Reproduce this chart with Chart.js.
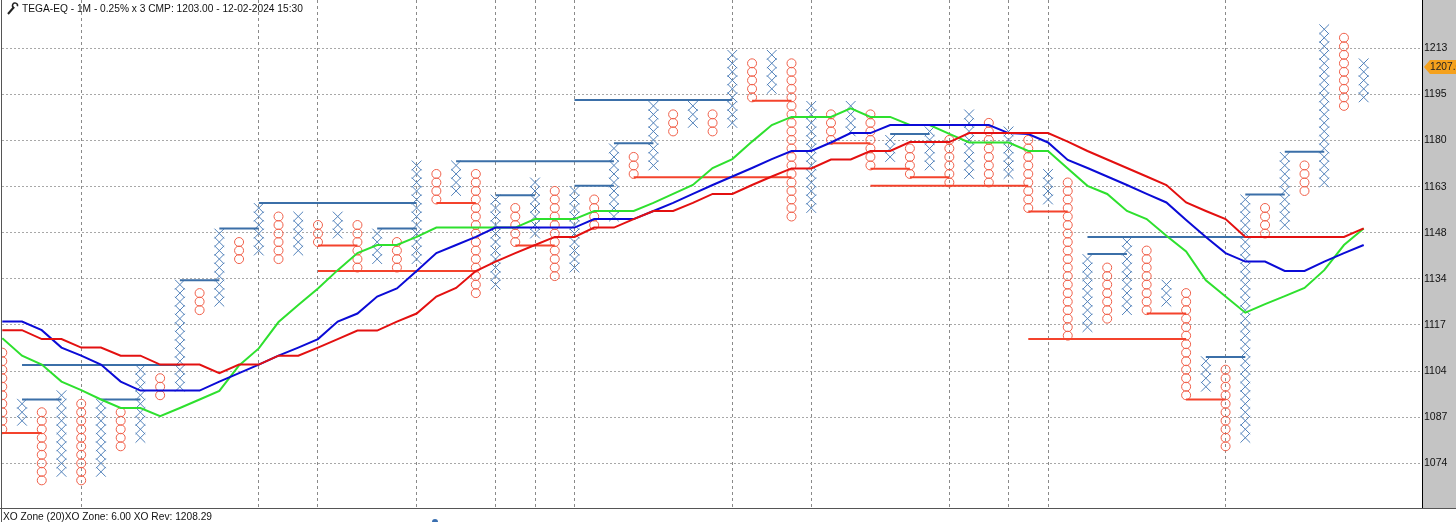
<!DOCTYPE html>
<html>
<head>
<meta charset="utf-8">
<script src="https://cdn.jsdelivr.net/npm/chart.js@4.4.1/dist/chart.umd.min.js"></script>
<style>
    html, body { margin: 0; padding: 0; background: #fff; }
    #wrap { width: 1456px; height: 522px; }
</style>
</head>
<body>
<div id="wrap"><canvas id="pnf" width="1456" height="522"></canvas></div>
<script>
// Point & Figure, 0.25% box x 3 reversal. Y values are box numbers (box 0 = 1074 line).
const TITLE = 'TEGA-EQ - 1M - 0.25% x 3 CMP: 1203.00 - 12-02-2024 15:30';
const STATUS = 'XO Zone (20)XO Zone: 6.00 XO Rev: 1208.29';
const TAG_LABEL = '1207.00';
const TAG_BOX = 46.57;

const COL_TYPE = 'OXOXOXOXOXOXOXOXOXOXOXOXOXOXOXOXOXOXOXOXOXOXOXOXOXOXOXOXOXOXOXOXOXOXOX'.split('');
const COL_LOW = [4, 5, -2, -1, -2, -1, 2, 3, 8, 9, 18, 19, 24, 25, 24, 25, 26, 27, 23, 24,
    23, 24, 31, 32, 20, 21, 26, 27, 22, 23, 28, 29, 34, 35, 39, 40, 39, 40, 43, 44,
    29, 30, 38, 39, 35, 36, 34, 35, 33, 34, 33, 34, 30, 31, 15, 16, 17, 18, 18, 19,
    8, 9, 2, 3, 27, 28, 32, 33, 42, 43];
const COL_HIGH = [13, 7, 6, 8, 7, 7, 6, 11, 10, 21, 20, 27, 26, 30, 29, 29, 28, 29, 28, 27,
    26, 35, 34, 35, 34, 31, 30, 33, 32, 32, 31, 37, 36, 42, 41, 42, 41, 48, 47, 48,
    47, 42, 41, 42, 41, 38, 37, 39, 38, 41, 40, 39, 38, 34, 33, 24, 23, 26, 25, 21,
    20, 12, 11, 31, 30, 36, 35, 51, 50, 47];

const GREEN_MA = [14.7, 12.65, 11.6, 9.6, 8.6, 7.5, 6.5, 6.5, 5.55, 6.5,
    7.5, 8.5, 11.5, 13.5, 16.6, 18.6, 20.55, 22.7, 24.7, 25.65,
    25.65, 26.6, 27.7, 27.7, 27.7, 27.7, 27.7, 28.7, 28.7, 28.7,
    29.65, 29.65, 29.65, 30.6, 31.65, 32.7, 34.7, 35.75, 37.8, 39.75,
    40.7, 40.7, 40.7, 41.7, 40.7, 40.7, 39.75, 39.75, 38.7, 37.7,
    37.7, 37.7, 36.7, 36.7, 34.65, 32.6, 31.65, 29.65, 28.7, 26.75,
    24.9, 21.5, 19.6, 17.7, 18.7, 19.65, 20.6, 22.7, 25.65, 27.6];
const BLUE_MA = [16.65, 16.65, 15.65, 13.6, 12.65, 11.6, 9.6, 8.55, 8.55, 8.55,
    8.55, 9.6, 10.6, 11.6, 12.65, 13.6, 14.6, 16.65, 17.6, 19.6,
    20.55, 22.6, 24.7, 25.65, 26.6, 27.7, 27.7, 27.7, 27.7, 27.7,
    28.7, 28.7, 28.7, 29.65, 30.6, 31.65, 32.7, 33.7, 34.7, 35.75,
    36.7, 36.7, 37.7, 38.8, 38.8, 39.75, 39.75, 39.75, 39.75, 39.75,
    39.75, 38.8, 38.7, 37.7, 35.65, 34.7, 33.7, 32.7, 31.65, 30.65,
    28.6, 26.6, 24.7, 23.7, 23.7, 22.6, 22.6, 23.7, 24.7, 25.65];
const RED_MA = [15.65, 15.65, 14.6, 14.6, 13.6, 13.6, 12.65, 12.65, 11.6, 11.6,
    11.6, 10.6, 11.6, 11.6, 12.65, 12.65, 13.6, 14.6, 15.6, 15.6,
    16.65, 17.6, 19.6, 20.6, 22.6, 23.7, 24.7, 25.65, 26.6, 26.6,
    27.7, 27.7, 28.7, 29.65, 29.65, 30.6, 31.65, 31.65, 32.7, 33.7,
    34.65, 34.65, 35.7, 35.7, 36.7, 36.7, 37.75, 37.75, 37.75, 38.8,
    38.8, 38.8, 38.8, 38.8, 37.8, 36.7, 35.7, 34.7, 33.7, 32.7,
    30.65, 29.65, 28.7, 26.6, 26.6, 26.6, 26.6, 26.6, 26.6, 27.6];

// [from column, to column, box level]
const BLUE_LINES = [[1, 9, 11.55], [1, 3, 7.5], [5, 7, 7.5], [9, 11, 21.5], [11, 13, 27.6],
    [13, 21, 30.6], [19, 21, 27.6], [23, 31, 35.5], [25, 27, 31.5], [29, 31, 32.6],
    [31, 33, 37.6], [29, 37, 42.7], [45, 47, 38.7], [55, 57, 24.6], [55, 63, 26.6],
    [61, 63, 12.5], [63, 65, 31.6], [65, 67, 36.6]];
const RED_LINES = [[-1, 2, 3.55], [16, 18, 25.6], [16, 24, 22.6], [22, 24, 30.6], [26, 28, 25.6],
    [32, 40, 33.6], [38, 40, 42.6], [42, 44, 37.6], [44, 46, 34.6], [46, 48, 33.6],
    [44, 52, 32.6], [52, 54, 29.6], [52, 60, 14.6], [58, 60, 17.6], [60, 62, 7.5]];

const TICK_LABELS = ['1074', '1087', '1104', '1117', '1134', '1148', '1163', '1180', '1195', '1213'];
const TICK_STEP = 5.418;
const VLINE_COLS = [4, 13, 16, 21, 25, 27, 29, 37, 41, 48, 51, 53, 62];

const FONT = '10.2px "Liberation Sans", Arial, sans-serif';

const xPts = [];
const oPts = [];
COL_TYPE.forEach(function(t, i) {
    for (let b = COL_LOW[i]; b <= COL_HIGH[i]; b++) {
        (t === 'X' ? xPts : oPts).push({ x: i, y: b });
    }
});

function segment(seg, color) {
    return {
        type: 'line',
        data: [{ x: seg[0], y: seg[2] }, { x: seg[1], y: seg[2] }],
        borderColor: color,
        borderWidth: 2,
        pointRadius: 0,
        order: 4,
        clip: 0
    };
}

function maLine(values, color, order) {
    return {
        type: 'line',
        data: values.map(function(v, i) { return { x: i, y: v }; }),
        borderColor: color,
        borderWidth: 2,
        pointRadius: 0,
        tension: 0,
        order: order,
        clip: 0
    };
}

// no label padding at the ends, so the plot runs edge to edge
function noPad(s) {
    s.paddingTop = 0;
    s.paddingBottom = 0;
    s.paddingLeft = 0;
    s.paddingRight = 0;
}

const decor = {
    id: 'decor',
    beforeDraw: function(chart) {
        const ctx = chart.ctx;
        const a = chart.chartArea;
        ctx.save();
        ctx.fillStyle = '#c4c4c4';
        ctx.fillRect(a.right, 0, chart.width - a.right, a.bottom);
        ctx.restore();
    },
    afterDraw: function(chart) {
        const ctx = chart.ctx;
        const a = chart.chartArea;
        const y = chart.scales.y;
        ctx.save();
        // left border and status separator
        ctx.strokeStyle = '#555';
        ctx.lineWidth = 1;
        ctx.beginPath();
        ctx.moveTo(1.5, 0);
        ctx.lineTo(1.5, chart.height);
        ctx.moveTo(0, a.bottom + 0.5);
        ctx.lineTo(chart.width, a.bottom + 0.5);
        ctx.stroke();

        // wrench glyph
        ctx.strokeStyle = '#222';
        ctx.lineWidth = 2;
        ctx.beginPath();
        ctx.moveTo(8, 14);
        ctx.lineTo(14, 7);
        ctx.stroke();
        ctx.lineWidth = 1.5;
        ctx.beginPath();
        ctx.arc(15, 5.5, 2.5, Math.PI * 0.6, Math.PI * 2.1);
        ctx.stroke();

        ctx.font = FONT;
        ctx.fillStyle = '#111';
        ctx.textBaseline = 'middle';
        ctx.fillText(TITLE, 22, 9);

        ctx.textBaseline = 'alphabetic';
        ctx.fillText(STATUS, 3, 520);

        // current price tag
        const ty = y.getPixelForValue(TAG_BOX);
        ctx.fillStyle = '#f5a11c';
        ctx.beginPath();
        ctx.moveTo(a.right + 2, ty);
        ctx.lineTo(a.right + 8, ty - 7);
        ctx.lineTo(chart.width, ty - 7);
        ctx.lineTo(chart.width, ty + 7);
        ctx.lineTo(a.right + 8, ty + 7);
        ctx.closePath();
        ctx.fill();
        ctx.fillStyle = '#222';
        ctx.textBaseline = 'middle';
        ctx.fillText(TAG_LABEL, a.right + 8, ty + 0.5);

        // small icon in status bar
        ctx.fillStyle = '#3a6fb0';
        ctx.beginPath();
        ctx.arc(435, 522, 3, Math.PI, 0);
        ctx.fill();
        ctx.restore();
    }
};

const datasets = [
    maLine(RED_MA, '#e31010', 0),
    maLine(BLUE_MA, '#0b0bd6', 1),
    maLine(GREEN_MA, '#2ee02e', 2)
];
BLUE_LINES.forEach(function(s) { datasets.push(segment(s, '#3b6fa8')); });
RED_LINES.forEach(function(s) { datasets.push(segment(s, '#f4432c')); });
datasets.push({
    type: 'scatter',
    data: xPts,
    pointStyle: 'crossRot',
    pointRadius: 6.9,
    borderColor: '#5181ba',
    borderWidth: 1,
    order: 5,
    clip: 0
});
datasets.push({
    type: 'scatter',
    data: oPts,
    pointStyle: 'circle',
    pointRadius: 4.5,
    borderColor: '#f0604a',
    backgroundColor: 'rgba(0,0,0,0)',
    borderWidth: 1,
    order: 5,
    clip: 0
});

new Chart(document.getElementById('pnf'), {
    type: 'scatter',
    data: { datasets: datasets },
    options: {
        responsive: false,
        animation: false,
        events: [],
        layout: { autoPadding: false, padding: { left: 2, top: 0, right: 0, bottom: 14 } },
        plugins: {
            legend: { display: false },
            tooltip: { enabled: false }
        },
        scales: {
            x: {
                type: 'linear',
                min: -0.015,
                max: 71.955,
                afterBuildTicks: function(s) {
                    s.ticks = VLINE_COLS.map(function(c) { return { value: c }; });
                },
                afterFit: function(s) { noPad(s); s.height = 0; },
                ticks: { display: false },
                grid: { color: '#8a8a8a', drawTicks: false, lineWidth: 1 },
                border: { display: false, dash: [3, 3] }
            },
            y: {
                type: 'linear',
                position: 'right',
                min: -5.25,
                max: 54.44,
                afterBuildTicks: function(s) {
                    s.ticks = TICK_LABELS.map(function(l, i) { return { value: i * TICK_STEP }; });
                },
                afterFit: function(s) { noPad(s); s.width = 34; },
                ticks: {
                    padding: 2,
                    color: '#111',
                    font: { family: '"Liberation Sans", Arial, sans-serif', size: 10.5 },
                    callback: function(v, i) { return TICK_LABELS[i]; }
                },
                grid: { color: '#a8a8a8', drawTicks: false, lineWidth: 1 },
                border: { display: true, color: '#000', width: 1, dash: [2, 2] }
            }
        }
    },
    plugins: [decor]
});
</script>
</body>
</html>
